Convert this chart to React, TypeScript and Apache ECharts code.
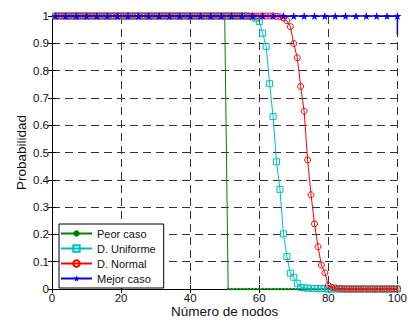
import React, { useEffect, useRef } from "react";
import * as echarts from "echarts";

const xNodes = [
  1, 2, 3, 4, 5, 6, 7, 8, 9, 10, 11, 12, 13, 14, 15, 16, 17, 18, 19, 20,
  21, 22, 23, 24, 25, 26, 27, 28, 29, 30, 31, 32, 33, 34, 35, 36, 37, 38, 39, 40,
  41, 42, 43, 44, 45, 46, 47, 48, 49, 50, 51, 52, 53, 54, 55, 56, 57, 58, 59, 60,
  61, 62, 63, 64, 65, 66, 67, 68, 69, 70, 71, 72, 73, 74, 75, 76, 77, 78, 79, 80,
  81, 82, 83, 84, 85, 86, 87, 88, 89, 90, 91, 92, 93, 94, 95, 96, 97, 98, 99, 100,
];

const peorCaso = [
  1, 1, 1, 1, 1, 1, 1, 1, 1, 1, 1, 1, 1, 1, 1, 1, 1, 1, 1, 1,
  1, 1, 1, 1, 1, 1, 1, 1, 1, 1, 1, 1, 1, 1, 1, 1, 1, 1, 1, 1,
  1, 1, 1, 1, 1, 1, 1, 1, 1, 1, 0, 0, 0, 0, 0, 0, 0, 0, 0, 0,
  0, 0, 0, 0, 0, 0, 0, 0, 0, 0, 0, 0, 0, 0, 0, 0, 0, 0, 0, 0,
  0, 0, 0, 0, 0, 0, 0, 0, 0, 0, 0, 0, 0, 0, 0, 0, 0, 0, 0, 0,
];

const dUniforme = [
  1, 1, 1, 1, 1, 1, 1, 1, 1, 1, 1, 1, 1, 1, 1, 1, 1, 1, 1, 1,
  1, 1, 1, 1, 1, 1, 1, 1, 1, 1, 1, 1, 1, 1, 1, 1, 1, 1, 1, 1,
  1, 1, 1, 1, 1, 1, 1, 1, 1, 1, 1, 1, 1, 1, 1, 1, 0.999, 0.997, 0.992, 0.98,
  0.937, 0.889, 0.752, 0.632, 0.466, 0.365, 0.202, 0.119, 0.058, 0.043,
  0.021, 0.006, 0.004, 0.003, 0.002, 0.002, 0.001, 0.001, 0.001, 0,
  0, 0, 0, 0, 0, 0, 0, 0, 0, 0, 0, 0, 0, 0, 0, 0, 0, 0, 0, 0,
];

const dNormal = [
  1, 1, 1, 1, 1, 1, 1, 1, 1, 1, 1, 1, 1, 1, 1, 1, 1, 1, 1, 1,
  1, 1, 1, 1, 1, 1, 1, 1, 1, 1, 1, 1, 1, 1, 1, 1, 1, 1, 1, 1,
  1, 1, 1, 1, 1, 1, 1, 1, 1, 1, 1, 1, 1, 1, 1, 1, 1, 1, 1, 1,
  1, 1, 1, 1, 0.999, 0.997, 0.993, 0.983, 0.961, 0.899,
  0.847, 0.742, 0.651, 0.473, 0.345, 0.239, 0.155, 0.088, 0.059, 0.013,
  0.006, 0.004, 0.002, 0.001, 0, 0, 0, 0, 0, 0,
  0, 0, 0, 0, 0, 0, 0, 0, 0, 0,
];

const mejorX = [
  1, 4, 7, 10, 13, 16, 19, 22, 25, 28, 31, 34, 37, 40, 43, 46, 49,
  52, 55, 58, 61, 64, 67, 70, 73, 76, 79, 82, 85, 88, 91, 94, 97, 100,
];
const mejorCaso = [
  1, 1, 1, 1, 1, 1, 1, 1, 1, 1, 1, 1, 1, 1, 1, 1, 1,
  1, 1, 1, 1, 1, 1, 1, 1, 1, 1, 1, 1, 1, 1, 1, 1, 1,
];
const mejorCasoEnd = 0.93;

const seriesNames = ["Peor caso", "D. Uniforme", "D. Normal", "Mejor caso"];

const STAR =
  "path://M0,-10L2.35,-3.24L9.51,-3.09L3.8,1.24L5.88,8.09L0,4L-5.88,8.09L-3.8,1.24L-9.51,-3.09L-2.35,-3.24Z";

const FONT = "'Liberation Sans', Arial, Helvetica, sans-serif";

export default function App() {
  const ref = useRef<HTMLDivElement>(null);

  useEffect(() => {
    if (!ref.current) return;
    const chart = echarts.init(ref.current, undefined, { renderer: "svg" });

    const gridLine = { show: true, lineStyle: { color: "#333", type: [8, 5] as any, width: 1 } };
    const axisLineStyle = { show: true, lineStyle: { color: "#000", width: 1 } };
    const tick = { show: true, inside: true, length: 4, lineStyle: { color: "#000" } };

    const mejorData: any[] = mejorX.map((x, i) => [x, mejorCaso[i]]);
    mejorData.push({ value: [mejorX[mejorX.length - 1], mejorCasoEnd], symbol: "none" });

    chart.setOption({
      animation: false,
      backgroundColor: "#fff",
      textStyle: { fontFamily: FONT },
      grid: { left: 52, right: 8, top: 16, bottom: 30 },
      xAxis: [
        {
          type: "value",
          min: 0,
          max: 100,
          interval: 20,
          position: "bottom",
          name: "Número de nodos",
          nameLocation: "middle",
          nameGap: 15,
          nameMoveOverlap: false,
          nameTextStyle: { fontSize: 13.5, color: "#111", fontFamily: FONT, verticalAlign: "top" },
          axisLine: axisLineStyle,
          axisTick: tick,
          axisLabel: { fontSize: 11.5, color: "#111", margin: 3, fontFamily: FONT },
          splitLine: gridLine,
        },
        {
          type: "value",
          min: 0,
          max: 100,
          interval: 20,
          position: "top",
          axisLine: axisLineStyle,
          axisTick: tick,
          axisLabel: { show: false },
          splitLine: { show: false },
        },
      ],
      yAxis: [
        {
          type: "value",
          min: 0,
          max: 1,
          interval: 0.1,
          position: "left",
          name: "Probabilidad",
          nameLocation: "middle",
          nameGap: 24,
          nameMoveOverlap: false,
          nameTextStyle: { fontSize: 13.5, color: "#111", fontFamily: FONT },
          axisLine: axisLineStyle,
          axisTick: tick,
          axisLabel: { fontSize: 11.5, color: "#111", margin: 3, fontFamily: FONT },
          splitLine: gridLine,
        },
        {
          type: "value",
          min: 0,
          max: 1,
          interval: 0.1,
          position: "right",
          axisLine: axisLineStyle,
          axisTick: tick,
          axisLabel: { show: false },
          splitLine: { show: false },
        },
      ],
      legend: {
        orient: "vertical",
        left: 59,
        top: 224,
        data: seriesNames,
        itemWidth: 31,
        itemHeight: 8,
        itemGap: 2,
        padding: [3, 8, 3, 1],
        borderColor: "#000",
        borderWidth: 1,
        borderRadius: 0,
        backgroundColor: "#fff",
        textStyle: { fontSize: 11, color: "#111", fontFamily: FONT, lineHeight: 13 },
      },
      series: [
        {
          name: "Peor caso",
          type: "line",
          clip: false,
          showAllSymbol: true,
          data: xNodes.map((x, i) => [x, peorCaso[i]]),
          color: "#008000",
          symbol: "circle",
          symbolSize: 2.5,
          lineStyle: { width: 1, color: "#008000" },
          itemStyle: { color: "#008000" },
          z: 2,
        },
        {
          name: "D. Uniforme",
          type: "line",
          clip: false,
          showAllSymbol: true,
          data: xNodes.map((x, i) => [x, dUniforme[i]]),
          color: "#00BFBF",
          symbol: "rect",
          symbolSize: 6,
          lineStyle: { width: 1, color: "#00BFBF" },
          itemStyle: { color: "rgba(0,0,0,0)", borderColor: "#00BFBF", borderWidth: 1 },
          z: 3,
        },
        {
          name: "D. Normal",
          type: "line",
          clip: false,
          showAllSymbol: true,
          data: xNodes.map((x, i) => [x, dNormal[i]]),
          color: "#FF0000",
          symbol: "circle",
          symbolSize: 6,
          lineStyle: { width: 1, color: "#FF0000" },
          itemStyle: { color: "rgba(0,0,0,0)", borderColor: "#FF0000", borderWidth: 1 },
          z: 4,
        },
        {
          name: "Mejor caso",
          type: "line",
          clip: false,
          showAllSymbol: true,
          data: mejorData,
          color: "#0000FF",
          symbol: STAR,
          symbolSize: 8,
          lineStyle: { width: 1.5, color: "#0000FF" },
          itemStyle: { color: "#0000FF" },
          z: 5,
        },
      ],
    });

    return () => chart.dispose();
  }, []);

  return (
    <div
      ref={ref}
      style={{ position: "absolute", left: 0, top: 0, width: 410, height: 323 }}
    />
  );
}
